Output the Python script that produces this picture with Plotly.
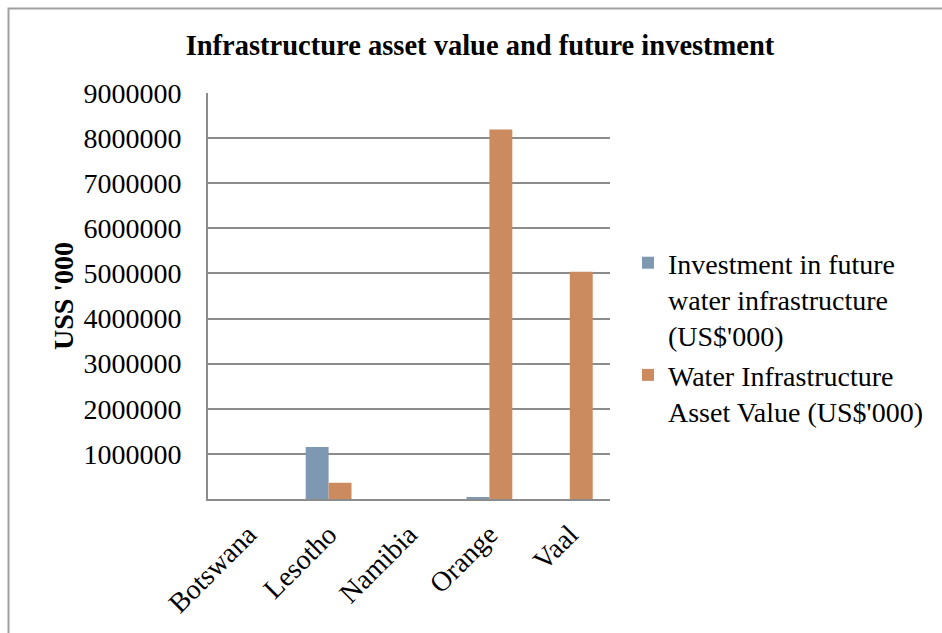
import plotly.graph_objects as go

# Basin / country categories
categories = ["Botswana", "Lesotho", "Namibia", "Orange", "Vaal"]

# US$'000 values per category
investment_future = [0, 1150000, 0, 45000, 0]
asset_value = [0, 360000, 0, 8190000, 5040000]

# Y-axis ticks (zero left unlabelled)
y_ticks = [1000000, 2000000, 3000000, 4000000, 5000000,
           6000000, 7000000, 8000000, 9000000]
y_tick_text = [str(v) for v in y_ticks]

W, H = 942, 633
FONT = "Liberation Serif"
FS = 28

fig = go.Figure()
fig.add_trace(go.Bar(
    x=categories, y=investment_future,
    name="Investment in future<br>water infrastructure<br>(US$'000)",
    marker=dict(color="#7F98B1", line=dict(width=0)),
))
fig.add_trace(go.Bar(
    x=categories, y=asset_value,
    name="Water Infrastructure<br>Asset Value (US$'000)",
    marker=dict(color="#CC8B5E", line=dict(width=0)),
))

# plot area in pixel terms
x0, x1 = 208, 610
y_top, y_bot = 93, 499

fig.update_layout(
    width=W, height=H,
    margin=dict(l=0, r=0, t=0, b=0, autoexpand=False),
    paper_bgcolor="white", plot_bgcolor="white",
    barmode="group", bargap=0.43, bargroupgap=0,
    font=dict(family=FONT, color="#000000", size=FS),
    title=dict(
        text="<b>Infrastructure asset value and future investment</b>",
        x=480 / W, xanchor="center", y=1 - 45 / H, yanchor="middle",
        font=dict(family=FONT, size=28.5, color="#000000"),
    ),
    xaxis=dict(
        domain=[x0 / W, x1 / W], automargin=False,
        showline=True, linecolor="#8C8C8C", linewidth=2,
        showgrid=False, ticks="", tickangle=-45,
        ticklabelstandoff=6,
        tickfont=dict(size=FS),
    ),
    yaxis=dict(
        domain=[1 - y_bot / H, 1 - y_top / H], automargin=False,
        range=[0, 9000000],
        tickvals=y_ticks, ticktext=y_tick_text,
        showline=True, linecolor="#8C8C8C", linewidth=2,
        showgrid=True, gridcolor="#8C8C8C", gridwidth=1.5,
        zeroline=False, ticks="",
        ticklabelstandoff=19,
        tickfont=dict(size=FS),
        title=dict(text="<b>USS '000</b>", font=dict(size=28), standoff=2),
    ),
    legend=dict(
        x=628 / W, xanchor="left", y=1 - 238 / H, yanchor="top",
        valign="top", tracegroupgap=0,
        font=dict(size=FS), itemsizing="constant",
        bgcolor="rgba(0,0,0,0)",
    ),
    showlegend=True,
    shapes=[dict(
        type="rect", xref="paper", yref="paper",
        x0=8.5 / W, x1=1.05, y0=-0.05, y1=1 - 8.5 / H,
        line=dict(color="#A0A0A0", width=2), fillcolor="rgba(0,0,0,0)",
        layer="below",
    )],
)

fig.write_html("out.html")
